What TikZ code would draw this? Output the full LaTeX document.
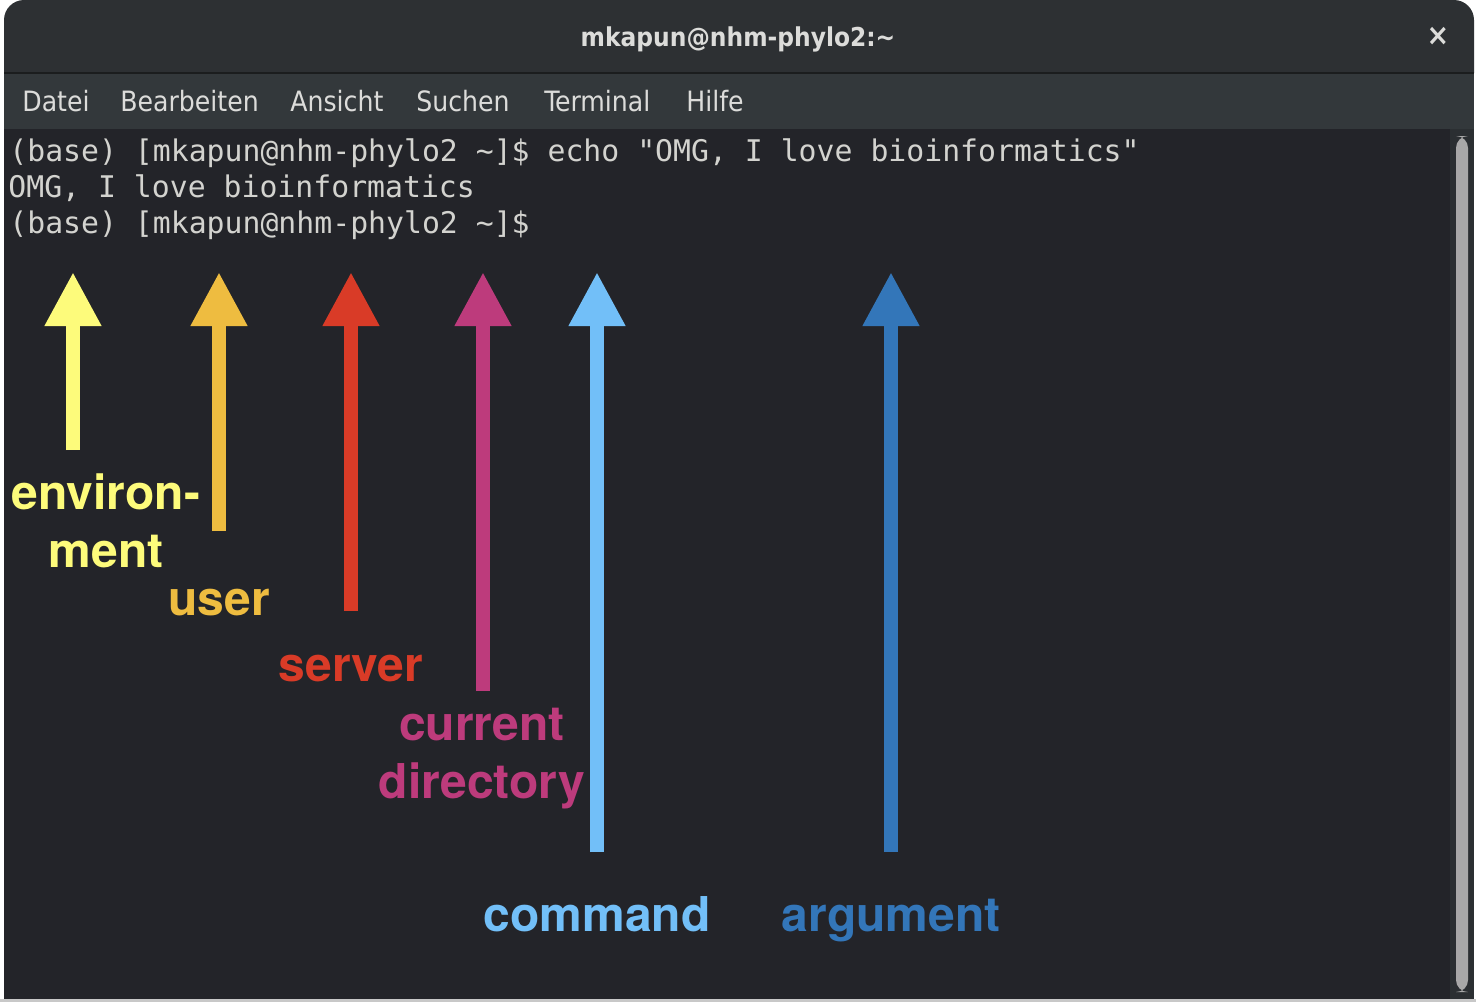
\documentclass[tikz,border=0pt]{standalone}
\usepackage{fontspec}
\setmainfont{TeX Gyre Heros}
\newfontfamily\termfont{DejaVu Sans Mono}
\newfontfamily\menufont{DejaVu Sans Condensed}
\usetikzlibrary{arrows.meta}

\definecolor{titlebg}{HTML}{2D3033}
\definecolor{sepline}{HTML}{1B1D1E}
\definecolor{menubg}{HTML}{33383B}
\definecolor{termbg}{HTML}{232429}
\definecolor{trackbg}{HTML}{2B2F32}
\definecolor{thumbgray}{HTML}{A8A8A8}
\definecolor{edgegray}{HTML}{C8C8C8}
\definecolor{termtext}{HTML}{D3D3CF}
\definecolor{menutext}{HTML}{DCDCDA}
\definecolor{envcol}{HTML}{FDFB7B}
\definecolor{usercol}{HTML}{EEBC40}
\definecolor{servercol}{HTML}{D93B27}
\definecolor{dircol}{HTML}{BD3B7C}
\definecolor{cmdcol}{HTML}{72BFF8}
\definecolor{argcol}{HTML}{3376B9}

\begin{document}
\begin{tikzpicture}[x=0.5pt,y=-0.5pt,
  partname/.style={font=\bfseries\fontsize{24}{29}\selectfont,inner sep=0pt,align=center},
  pointer/.style={line width=7pt,-{Triangle[length=27pt,width=26.5pt]}},
  termline/.style={font=\termfont\fontsize{14.9}{18}\selectfont,text=termtext,anchor=base west,inner sep=0pt},
  menuitem/.style={font=\menufont\fontsize{14}{16}\selectfont,text=menutext,anchor=base west,inner sep=0pt}]
\useasboundingbox (0,0) rectangle (1476,1002);
% window
\fill[white] (0,0) rectangle (1476,1002);
\fill[edgegray] (0,999) rectangle (1476,1002);
\fill[termbg] (4,129) rectangle (1474,999);
\fill[titlebg,rounded corners=10] (4,73) -- (4,0) -- (1474,0) -- (1474,73);
\fill[sepline] (4,72) rectangle (1474,74);
\fill[menubg] (4,74) rectangle (1474,129);
\fill[trackbg] (1450,129) rectangle (1474,999);
\fill[thumbgray,rounded corners=6] (1456,136) rectangle (1468,992);
\node[font=\menufont\bfseries\fontsize{13}{15}\selectfont,text=menutext,anchor=base,inner sep=0pt] (title) at (738,46) {mkapun@nhm-phylo2:\textasciitilde};
\node[font=\menufont\bfseries\fontsize{15}{17}\selectfont,text=menutext,inner sep=0pt] (close) at (1438,36) {×};
% menu
\node[menuitem] (datei) at (22,111) {Datei};
\node[menuitem] (bearb) at (120,111) {Bearbeiten};
\node[menuitem] (ansicht) at (290,111) {Ansicht};
\node[menuitem] (suchen) at (416,111) {Suchen};
\node[menuitem] (terminal) at (544,111) {Terminal};
\node[menuitem] (hilfe) at (686,111) {Hilfe};
% shell
\node[termline] (line1) at (9,161) {(base) [mkapun@nhm-phylo2 \string~]\$ echo "OMG, I love bioinformatics"};
\node[termline] (line2) at (8,197) {OMG, I love bioinformatics};
\node[termline] (line3) at (9,233) {(base) [mkapun@nhm-phylo2 \string~]\$};
% arrows
\coordinate (envtip) at (73,272);
\coordinate (envtail) at (73,450);
\coordinate (usertip) at (219,272);
\coordinate (usertail) at (219,531);
\coordinate (servertip) at (351,272);
\coordinate (servertail) at (351,611);
\coordinate (dirtip) at (483,272);
\coordinate (dirtail) at (483,691);
\coordinate (cmdtip) at (597,272);
\coordinate (cmdtail) at (597,852);
\coordinate (argtip) at (891,272);
\coordinate (argtail) at (891,852);
\draw[pointer,envcol] (envtail) -- (envtip);
\draw[pointer,usercol] (usertail) -- (usertip);
\draw[pointer,servercol] (servertail) -- (servertip);
\draw[pointer,dircol] (dirtail) -- (dirtip);
\draw[pointer,cmdcol] (cmdtail) -- (cmdtip);
\draw[pointer,argcol] (argtail) -- (argtip);
% labels
\node[partname,text=envcol] (env) at (106,521) {environ-\\ment};
\node[partname,text=usercol,anchor=base] (user) at (219,615) {user};
\node[partname,text=servercol,anchor=base] (server) at (351,681) {server};
\node[partname,text=dircol] (dir) at (482,759) {current\\directory};
\node[partname,text=cmdcol,anchor=base] (cmd) at (597,931) {command};
\node[partname,text=argcol,anchor=base] (arg) at (891,931) {argument};
\end{tikzpicture}
\end{document}
